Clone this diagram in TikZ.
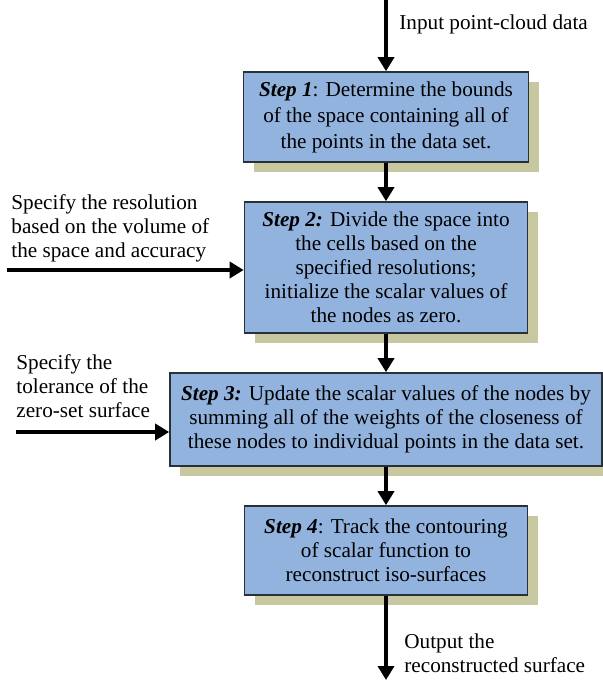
\documentclass[tikz,border=0pt]{standalone}
\usepackage{fontspec}
\setmainfont{Liberation Serif}
\definecolor{boxblue}{RGB}{147,179,223}
\definecolor{shade}{RGB}{200,200,160}
\definecolor{edge}{RGB}{40,48,58}
\usetikzlibrary{arrows.meta}
\usetikzlibrary{shadows}
\usetikzlibrary{positioning}
\tikzstyle{base}=[x=0.5pt, y=-0.5pt]
\tikzstyle{stepbox}=[draw=edge, line width=0.8pt, fill=boxblue, align=center, inner sep=0pt,
    font=\fontsize{10.6pt}{12pt}\selectfont,
    drop shadow={shadow xshift=5pt, shadow yshift=-5pt, fill=shade, opacity=1}]
\tikzstyle{note}=[inner sep=0pt, align=left, font=\fontsize{10.6pt}{12pt}\selectfont]
\tikzstyle{flow}=[line width=2pt, -{Triangle[length=7pt,width=8pt]}]
\newcommand*{\stepname}[1]{\textbf{\textit{#1}}}

\begin{document}
\begin{tikzpicture}[base]
    \path [use as bounding box, fill=white] (0,0) rectangle (603,680);
        % steps
        \node [stepbox, minimum width=142.5pt, minimum height=45pt,
            font=\fontsize{10.6pt}{13pt}\selectfont] (s1) at (386,117)
            {\stepname{Step 1}: Determine the bounds\\of the space containing all of\\the points in the data set.};
        \node [stepbox, minimum width=141.5pt, minimum height=65.5pt] (s2) at (386,267.5)
            {\stepname{Step 2:} Divide the space into\\the cells based on the\\specified resolutions;\\initialize the scalar values of\\the nodes as zero.};
        \node [stepbox, minimum width=216pt, minimum height=46.5pt] (s3) at (386,419.5)
            {\stepname{Step 3:} Update the scalar values of the nodes by\\summing all of the weights of the closeness of\\these nodes to individual points in the data set.};
        \node [stepbox, minimum width=141.5pt, minimum height=44.5pt] (s4) at (386,550.5)
            {\stepname{Step 4}: Track the contouring\\of scalar function to\\reconstruct iso-surfaces};
        % inputs and output
        \coordinate (in) at (386,0);
        \coordinate (res) at (7,270);
        \coordinate (tol) at (16,432);
        \coordinate (out) at (386,680);
        \node [note, anchor=base west] (inlabel) at (399,29) {Input point-cloud data};
        \node [note, anchor=north west] (reslabel) at (11,194)
            {Specify the resolution\\based on the volume of\\the space and accuracy};
        \node [note, anchor=north west] (tollabel) at (16,354)
            {Specify the\\tolerance of the\\zero-set surface};
        \node [note, anchor=north west] (outlabel) at (404,633)
            {Output the\\reconstructed surface};
        % arrows
        \draw [flow] (in) -- (s1);
        \draw [flow] (s1) -- (s2);
        \draw [flow] (s2) -- (s3);
        \draw [flow] (s3) -- (s4);
        \draw [flow] (s4) -- (out);
        \draw [flow] (res) -- (res -| s2.west);
        \draw [flow] (tol) -- (tol -| s3.west);
    \end{tikzpicture}
\end{document}
